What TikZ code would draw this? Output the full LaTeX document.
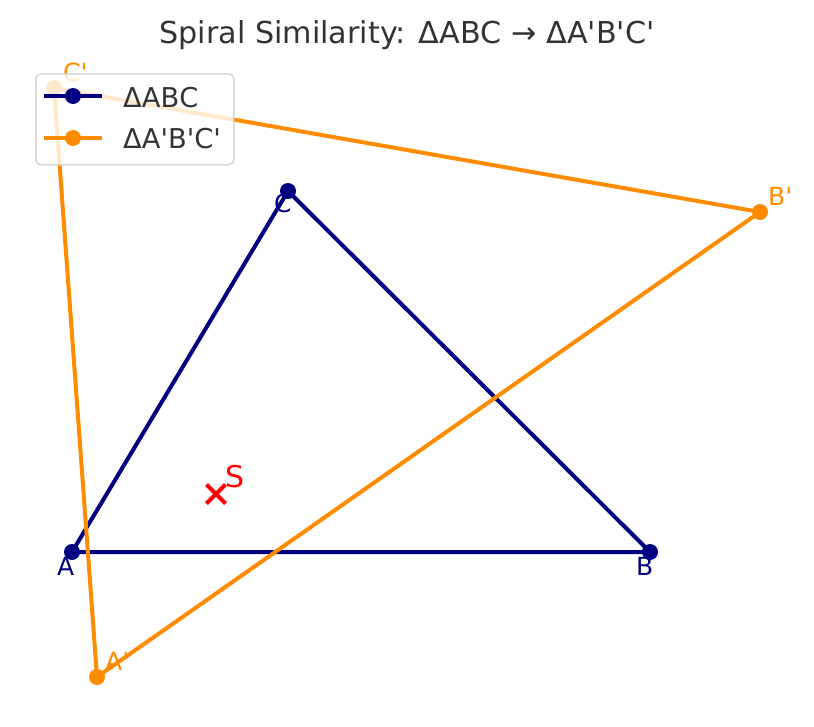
\documentclass[tikz,border=0pt]{standalone}
\usetikzlibrary{shapes.misc}
% plain XeTeX fonts, so that ' stays a straight apostrophe
\font\titlefont="DejaVu Sans" at 30.2pt
\font\legfont="DejaVu Sans" at 27.3pt
\font\ptfont="DejaVu Sans" at 25pt
\font\sfont="DejaVu Sans" at 30pt
\definecolor{navy}{RGB}{0,0,128}
\definecolor{darkorange}{RGB}{255,140,0}
\definecolor{txtgray}{RGB}{51,51,51}
\tikzset{
  tri/.style={line width=4pt,line join=round},
  lbl/.style={anchor=base west,inner sep=0pt,font=\ptfont},
  legtext/.style={anchor=base west,inner sep=0pt,text=txtgray,font=\legfont}
}
\begin{document}
\begin{tikzpicture}[x=1pt,y=-1pt]
\useasboundingbox (0,0) rectangle (814,726);
\node[anchor=base,inner sep=0pt,text=txtgray,font=\titlefont] (title) at (407,43) {Spiral Similarity: ΔABC → ΔA'B'C'};
% original triangle
\coordinate (A) at (72,552);\coordinate (B) at (650,552);\coordinate (C) at (288,191);
% image triangle
\coordinate (Ap) at (97,677);\coordinate (Bp) at (760,212);\coordinate (Cp) at (54,88);
\draw[tri,navy] (A)--(B)--(C)--cycle;
\fill[navy] (A) circle (8);\fill[navy] (B) circle (8);\fill[navy] (C) circle (8);
\draw[tri,darkorange] (Ap)--(Bp)--(Cp)--cycle;
\fill[darkorange] (Ap) circle (8);\fill[darkorange] (Bp) circle (8);\fill[darkorange] (Cp) circle (8);
\node[lbl,navy] (labA) at (57,575) {A};\node[lbl,navy] (labB) at (636,575) {B};\node[lbl,navy] (labC) at (274,212) {C};
\node[lbl,darkorange] (labAp) at (105,670) {A'};\node[lbl,darkorange] (labBp) at (768,205) {B'};\node[lbl,darkorange] (labCp) at (63,81) {C'};
% centre of the spiral similarity
\node[cross out,draw=red,line width=4pt,minimum size=15pt,inner sep=0pt] (S) at (216,494) {};
\node[anchor=base west,inner sep=0pt,text=red,font=\sfont] (labS) at (225,487) {S};
% legend
\node[draw=black!20,fill=white,fill opacity=0.8,draw opacity=0.8,line width=1.5pt,rounded corners=5pt,
  minimum width=198pt,minimum height=91pt,anchor=north west] (leg) at (35,73) {};
\coordinate (l1a) at (44,96);\coordinate (l1b) at (102,96);\coordinate (l2a) at (44,138);\coordinate (l2b) at (102,138);
\draw[tri,navy] (l1a)--(l1b);\fill[navy] (73,96) circle (8);
\draw[tri,darkorange] (l2a)--(l2b);\fill[darkorange] (73,138) circle (8);
\node[legtext] (leg1) at (123,107) {ΔABC};
\node[legtext] (leg2) at (123,148) {ΔA'B'C'};
\end{tikzpicture}
\end{document}
